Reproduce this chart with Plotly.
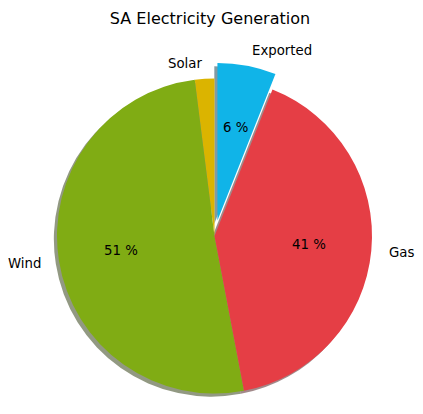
import math
import plotly.graph_objects as go

# données (parts en %)
sources = ["Solar", "Wind", "Gas", "Exported"]
parts = [2, 51, 41, 6]
couleurs = ["#dbb400", "#80ac14", "#e53e45", "#10b4e8"]
explosion = [0, 0, 0, 0.1]

# la page ajoute une marge de 8 px autour de la figure
MARGE = 8
W, H = 423 - MARGE, 414 - MARGE
cx, cy, r = 214.5 - MARGE, 236.0 - MARGE, 157.5   # centre et rayon en pixels
ombre = 3.15                                         # décalage de l'ombre

total = sum(parts)
# en sens antihoraire plotly termine la 1re part à midi : on la fait démarrer à midi
rotation = -360.0 * parts[0] / total

max_pull = max(explosion)
demi = r * (1 + max_pull)


def domaine(dx=0.0, dy=0.0):
    return dict(
        x=[(cx + dx - demi) / W, (cx + dx + demi) / W],
        y=[1 - (cy + dy + demi) / H, 1 - (cy + dy - demi) / H],
    )


def ombre_rgba(hexa):
    rr, gg, bb = (int(hexa[i:i + 2], 16) for i in (1, 3, 5))
    return f"rgba({rr * 0.3:.0f},{gg * 0.3:.0f},{bb * 0.3:.0f},0.5)"


fig = go.Figure()

# ombre portée
fig.add_trace(go.Pie(
    labels=sources, values=parts, sort=False, direction="counterclockwise",
    rotation=rotation, pull=explosion, domain=domaine(-ombre, ombre),
    marker=dict(colors=[ombre_rgba(c) for c in couleurs], line=dict(width=0)),
    textinfo="none", hoverinfo="skip", showlegend=False,
))

# camembert principal
fig.add_trace(go.Pie(
    labels=sources, values=parts, sort=False, direction="counterclockwise",
    rotation=rotation, pull=explosion, domain=domaine(),
    marker=dict(colors=couleurs, line=dict(width=0)),
    textinfo="none", hoverinfo="label+percent", showlegend=False,
))

# étiquettes : nom à 1.1 r, pourcentage à 0.6 r (pas pour Solar)
angle = 90.0
police = dict(family="DejaVu Sans", size=13.3, color="black")
for nom, v, ex in zip(sources, parts, explosion):
    theta = angle + 360.0 * v / total / 2
    angle += 360.0 * v / total
    c, s = math.cos(math.radians(theta)), math.sin(math.radians(theta))
    ox, oy = cx + ex * r * c, cy - ex * r * s
    lx, ly = ox + 1.1 * r * c, oy - 1.1 * r * s
    fig.add_annotation(
        x=lx / W, y=1 - ly / H, xref="paper", yref="paper", text=nom,
        showarrow=False, font=police, xanchor="left" if c > 0 else "right",
        yanchor="middle",
    )
    pct = 100.0 * v / total
    if pct >= 3:
        px_, py_ = ox + 0.6 * r * c, oy - 0.6 * r * s
        fig.add_annotation(
            x=px_ / W, y=1 - py_ / H, xref="paper", yref="paper",
            text=f"{pct:.0f} %", showarrow=False, font=police,
            xanchor="center", yanchor="middle",
        )

fig.update_layout(
    width=W, height=H,
    margin=dict(l=0, r=0, t=0, b=0),
    paper_bgcolor="white", plot_bgcolor="white",
    title=dict(text="SA Electricity Generation", x=(210 - MARGE) / W,
               xanchor="center", y=1 - (18 - MARGE) / H, yanchor="middle",
               font=dict(family="DejaVu Sans", size=16, color="black")),
)

fig.write_html("out.html")
